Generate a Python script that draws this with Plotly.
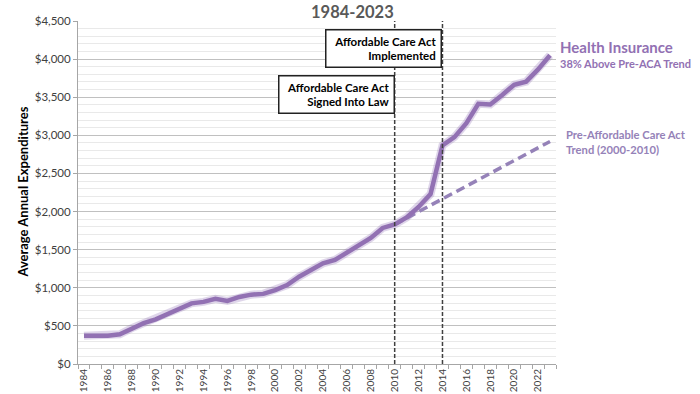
import plotly.graph_objects as go

years = list(range(1984, 2024))
health_insurance = [
    372, 372, 372, 390, 470, 535, 585, 655, 725, 796, 815, 855, 828, 880, 910, 920,
    970, 1035, 1145, 1230, 1320, 1365, 1460, 1545, 1653, 1785, 1831, 1922, 2061, 2229,
    2868, 2977, 3160, 3414, 3405, 3529, 3664, 3704, 3865, 4050,
]
trend_years = [2010, 2023]
trend_values = [1831, 2920]
event_years = [2010, 2014]
x_tick_years = list(range(1984, 2023, 2))

purple = "#9271B3"
trend_purple = "#9582B8"
font_family = "Lato, 'Open Sans', sans-serif"

fig = go.Figure()

# soft shadow under the main line
fig.add_trace(go.Scatter(x=years, y=health_insurance, mode="lines",
                         line=dict(color="rgba(150,120,185,0.30)", width=8),
                         hoverinfo="skip", showlegend=False))
# trend line
fig.add_trace(go.Scatter(x=trend_years, y=trend_values, mode="lines",
                         line=dict(color=trend_purple, width=3.5, dash="9px,5px"),
                         showlegend=False))
# main line
fig.add_trace(go.Scatter(x=years, y=health_insurance, mode="lines",
                         line=dict(color=purple, width=4.5),
                         showlegend=False))

for yr in event_years:
    fig.add_shape(type="line", x0=yr, x1=yr, y0=0, y1=4500, xref="x", yref="y",
                  line=dict(color="#404040", width=1.5, dash="4px,2px"), layer="above")

box_font = dict(family=font_family, size=11.5, color="#000000")
fig.add_annotation(x=2014, y=4395, xref="x", yref="y", xanchor="right", yanchor="top",
                   text="<b>Affordable Care Act<br>Implemented</b>", align="right",
                   showarrow=False, font=box_font, bgcolor="white",
                   bordercolor="#222222", borderwidth=1.5, borderpad=4, width=106)
fig.add_annotation(x=2010, y=3792, xref="x", yref="y", xanchor="right", yanchor="top",
                   text="<b>Affordable Care Act<br>Signed Into Law</b>", align="right",
                   showarrow=False, font=box_font, bgcolor="white",
                   bordercolor="#222222", borderwidth=1.5, borderpad=4, width=106)

# right-side labels
fig.add_annotation(x=1.004, y=4159, xref="paper", yref="y", xanchor="left", yanchor="middle",
                   text="<b>Health Insurance</b>", showarrow=False,
                   font=dict(family=font_family, size=15, color=purple))
fig.add_annotation(x=1.004, y=3936, xref="paper", yref="y", xanchor="left", yanchor="middle",
                   text="<b>38% Above Pre-ACA Trend</b>", showarrow=False,
                   font=dict(family=font_family, size=11, color=purple))
fig.add_annotation(x=1.0165, y=2908, xref="paper", yref="y", xanchor="left", yanchor="middle",
                   text="<b>Pre-Affordable Care Act<br>Trend (2000-2010)</b>", align="left",
                   showarrow=False,
                   font=dict(family=font_family, size=11.2, color=trend_purple))

# title
fig.add_annotation(x=0.575, y=1.058, xref="paper", yref="paper", xanchor="center", yanchor="top",
                   text="<b>1984-2023</b>", showarrow=False, borderpad=0,
                   font=dict(family=font_family, size=16.5, color="#595959"))
# y-axis title
fig.add_annotation(x=-0.117, y=0.5, xref="paper", yref="paper", xanchor="center", yanchor="middle",
                   text="<b>Average Annual Expenditures</b>", textangle=-90, showarrow=False,
                   font=dict(family=font_family, size=13, color="#000000"))

fig.update_layout(
    width=700, height=394,
    margin=dict(l=78, r=144, t=21, b=30, autoexpand=False),
    paper_bgcolor="white", plot_bgcolor="white",
    font=dict(family=font_family, color="#404040"),
    showlegend=False,
)
fig.update_xaxes(
    automargin=False,
    range=[1983.5, 2023.5], tickmode="array", tickvals=x_tick_years,
    ticktext=[str(y) for y in x_tick_years], tickangle=-90,
    tickfont=dict(size=10, color="#404040"), ticks="",
    showgrid=False, zeroline=False, showline=True, linecolor="#A6A6A6", linewidth=1,
    minor=dict(tick0=1983.5, dtick=1, ticks="outside", ticklen=4, tickcolor="#A6A6A6",
               showgrid=False),
)
fig.update_yaxes(
    automargin=False,
    range=[0, 4500], dtick=500, tickprefix="$", tickformat=",",
    tickfont=dict(size=11.5, color="#404040"),
    showgrid=True, gridcolor="#C0C0C0", gridwidth=1, zeroline=False,
    showline=True, linecolor="#A6A6A6", linewidth=1,
    ticks="outside", ticklen=4, tickcolor="#A6A6A6",
    minor=dict(dtick=100, showgrid=True, gridcolor="#E9E9E9", gridwidth=1),
)

fig.write_html("out.html", config={"displayModeBar": False},
               post_script="document.body.style.margin='0';document.body.style.overflow='hidden';")
